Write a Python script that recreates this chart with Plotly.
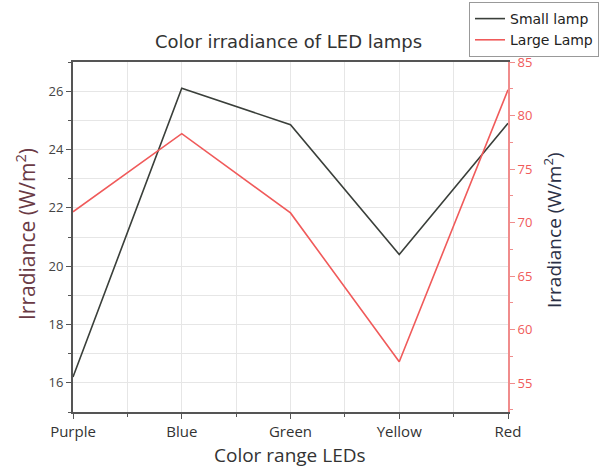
import plotly.graph_objects as go

categories = ["Purple", "Blue", "Green", "Yellow", "Red"]
small_lamp = [16.2, 26.1, 24.85, 20.4, 24.9]
large_lamp = [71.0, 78.3, 70.9, 57.0, 82.4]

xpos = list(range(len(categories)))

# plot area in pixels
L, R, T, B = 73, 508, 62, 412
W, H = 603, 470
pw, ph = R - L, B - T

fig = go.Figure()
fig.add_trace(go.Scatter(x=xpos, y=small_lamp, mode="lines", name="Small lamp",
                         line=dict(color="#3a3f3a", width=1.6), yaxis="y"))
fig.add_trace(go.Scatter(x=xpos, y=large_lamp, mode="lines", name="Large Lamp",
                         line=dict(color="#f05a5a", width=1.6), yaxis="y2"))

font_fam = "Open Sans, Arial, sans-serif"
verd = "DejaVu Sans, Verdana, sans-serif"

fig.update_layout(
    width=W, height=H,
    margin=dict(l=L, r=W - R, t=T, b=H - B, autoexpand=False),
    paper_bgcolor="white", plot_bgcolor="white",
    font=dict(family=font_fam, color="#333333"),
    title=dict(text="Color irradiance of LED lamps", x=(L + pw / 2 - 2) / W, xanchor="center",
               y=1 - 42 / H, yanchor="middle", font=dict(family=verd, size=18, color="#333333")),
    xaxis=dict(range=[0, 4], tickvals=xpos, ticktext=categories,
               showline=True, linecolor="#555555", linewidth=2, mirror=True,
               ticks="outside", ticklen=5, tickcolor="#555555",
               showgrid=True, gridcolor="#e6e6e6", gridwidth=1, zeroline=False,
               minor=dict(dtick=0.5, ticks="outside", ticklen=3, tickcolor="#555555",
                          showgrid=True, gridcolor="#e6e6e6"),
               tickfont=dict(size=15, color="#333333")),
    yaxis=dict(range=[15, 27], dtick=2, tick0=16,
               showline=True, linecolor="#555555", linewidth=2,
               ticks="outside", ticklen=5, tickcolor="#555555",
               showgrid=True, gridcolor="#e6e6e6", zeroline=False,
               minor=dict(dtick=1, ticks="outside", ticklen=3, tickcolor="#555555",
                          showgrid=True, gridcolor="#e6e6e6"),
               tickfont=dict(size=13, color="#444444")),
    yaxis2=dict(range=[52.3, 85], dtick=5, tick0=55, overlaying="y", side="right",
                showline=True, linecolor="#f08c8c", linewidth=2,
                ticks="outside", ticklen=5, tickcolor="#f08c8c",
                showgrid=False, zeroline=False,
                minor=dict(dtick=2.5, ticks="outside", ticklen=3, tickcolor="#f08c8c", showgrid=False),
                tickfont=dict(size=13, color="#f05a5a")),
    annotations=[
        dict(text="Irradiance (W/m<sup>2</sup>)", xref="paper", yref="paper",
             x=(25 - L) / pw, y=(B - 234) / ph, textangle=-90, showarrow=False,
             xanchor="center", yanchor="middle", font=dict(size=21, color="#6a3a45")),
        dict(text="Irradiance (W/m<sup>2</sup>)", xref="paper", yref="paper",
             x=(553 - L) / pw, y=(B - 230) / ph, textangle=-90, showarrow=False,
             xanchor="center", yanchor="middle", font=dict(size=19, color="#2a2f45")),
        dict(text="Color range LEDs", xref="paper", yref="paper",
             x=(290 - L) / pw, y=(B - 455) / ph, showarrow=False,
             xanchor="center", yanchor="middle", font=dict(size=19, color="#333333")),
    ],
    showlegend=True,
    legend=dict(xref="container", yref="container", x=469 / W, y=1 - 2 / H,
                xanchor="left", yanchor="top", bordercolor="#999999", borderwidth=1,
                bgcolor="white", font=dict(family=verd, size=14, color="#222222"), tracegroupgap=0,
                itemwidth=30),
)

fig.write_html("out.html")
